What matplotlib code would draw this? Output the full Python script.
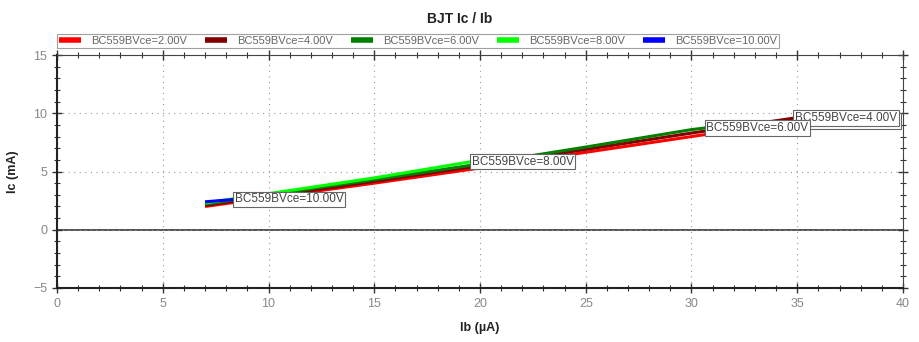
import matplotlib
matplotlib.use("Agg")
import matplotlib.pyplot as plt
from matplotlib.ticker import MultipleLocator

plt.rcParams['font.family'] = ['Liberation Sans', 'DejaVu Sans']

title = "BJT Ic / Ib"
xlabel = "Ib (µA)"
ylabel = "Ic (mA)"

names = ["BC559BVce=2.00V", "BC559BVce=4.00V", "BC559BVce=6.00V",
         "BC559BVce=8.00V", "BC559BVce=10.00V"]
colors = ["#ff0000", "#800000", "#008000", "#00ff00", "#0000ff"]

ib_2v = [7, 10, 15, 20, 25, 30, 35.0]
ic_2v = [2.0, 2.75, 4.0, 5.3, 6.65, 8.0, 9.35]
ib_4v = [7, 10, 15, 20, 25, 30, 34.9]
ic_4v = [2.1, 2.85, 4.15, 5.5, 6.9, 8.3, 9.6]
ib_6v = [7, 10, 15, 20, 25, 30, 30.7]
ic_6v = [2.2, 3.0, 4.3, 5.65, 7.1, 8.6, 8.75]
ib_8v = [7, 10, 15, 19.6]
ic_8v = [2.3, 3.1, 4.45, 5.85]
ib_10v = [7, 8.4]
ic_10v = [2.4, 2.6]

series = [(ib_2v, ic_2v), (ib_4v, ic_4v), (ib_6v, ic_6v), (ib_8v, ic_8v), (ib_10v, ic_10v)]

fig = plt.figure(figsize=(9.2, 3.42), dpi=100)
ax = fig.add_axes([0.062, 0.158, 0.9195, 0.681])

ax.set_xlim(0, 40)
ax.set_ylim(-5, 15)
ax.xaxis.set_major_locator(MultipleLocator(5))
ax.xaxis.set_minor_locator(MultipleLocator(1))
ax.yaxis.set_major_locator(MultipleLocator(5))
ax.yaxis.set_minor_locator(MultipleLocator(1))
ax.grid(True, which='major', linestyle=(0, (1, 4)), color='#999999', linewidth=0.8)
ax.axhline(0, color='#444444', linewidth=1.3, zorder=1.5)

for s in ['left', 'bottom']:
    ax.spines[s].set_linewidth(1.5)
    ax.spines[s].set_color('#222222')
for s in ['right', 'top']:
    ax.spines[s].set_linewidth(0.8)
    ax.spines[s].set_color('#444444')

ax.tick_params(which='both', direction='inout', top=True, right=True,
               colors='#333333', labelcolor='#888888', labelsize=9)
ax.tick_params(which='major', length=7, width=1)
ax.tick_params(which='minor', length=4, width=0.8)
ax.tick_params(axis='y', which='both', labelright=False)
ax.tick_params(axis='x', which='both', labeltop=False)

for (x, y), name, c in zip(series, names, colors):
    ax.plot(x, y, color=c, linewidth=2.2, label=name, solid_capstyle='butt', zorder=3)

for (x, y), name in zip(series, names):
    ax.annotate(name, xy=(x[-1], y[-1]), xytext=(0, 0), textcoords='offset points',
                ha='left', va='center', fontsize=8.5, color='#444444', zorder=5,
                bbox=dict(boxstyle='square,pad=0.15', fc='white', ec='#666666', lw=0.8))

leg = ax.legend(loc='lower left', bbox_to_anchor=(0.0, 1.03), ncol=5, frameon=True,
                fancybox=False, edgecolor='#888888', fontsize=8, handlelength=2.0,
                handletextpad=0.9, columnspacing=1.6, borderpad=0.2, borderaxespad=0)
for t in leg.get_texts():
    t.set_color('#666666')
for h in leg.legend_handles:
    h.set_linewidth(4)
leg.get_frame().set_linewidth(0.8)

fig.text(0.5, 0.945, title, ha='center', va='center', fontsize=10, fontweight='bold', color='#222222')
ax.set_xlabel(xlabel, fontsize=9, fontweight='bold', color='#222222', labelpad=9)
ax.set_ylabel(ylabel, fontsize=9, fontweight='bold', color='#222222', labelpad=10)

fig.savefig("out.png", dpi=100)
